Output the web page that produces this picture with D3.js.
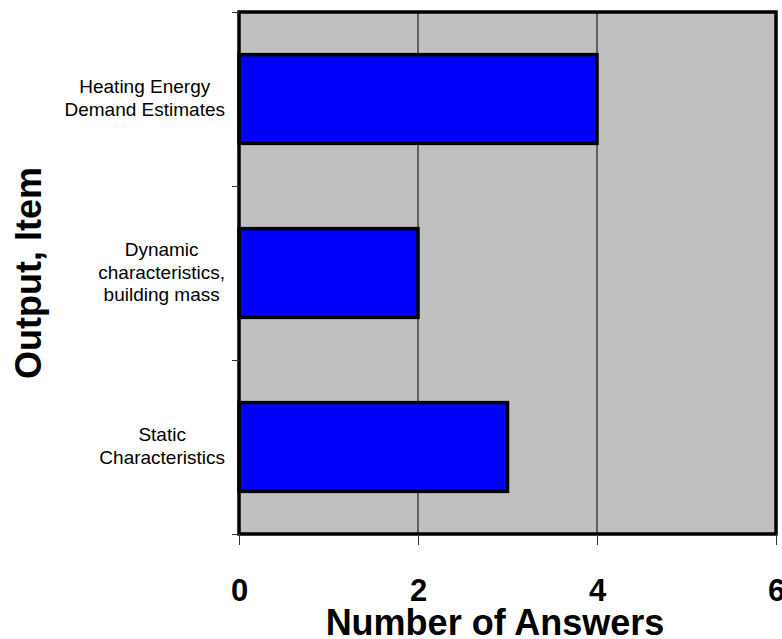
<!DOCTYPE html>
<html>
<head>
<meta charset="utf-8">
<script src="https://cdn.jsdelivr.net/npm/d3@7"></script>
<style>
  html, body { margin: 0; padding: 0; background: #ffffff; }
  svg { display: block; font-family: Arial, "Liberation Sans", sans-serif; }
</style>
</head>
<body>
<svg id="chart" width="782" height="639"></svg>
<script>
// Survey answers per output item (top to bottom)
const categories = [
  "Heating Energy\nDemand Estimates",
  "Dynamic\ncharacteristics,\nbuilding mass",
  "Static\nCharacteristics"
];
const answers = [4, 2, 3];
const xTicks = [0, 2, 4, 6];
const xTitle = "Number of Answers";
const yTitle = "Output, Item";

const svg = d3.select("#chart");
const plot = { left: 239, right: 776, top: 12, bottom: 534 };

const x = d3.scaleLinear().domain([0, 6]).range([plot.left, plot.right]);
const y = d3.scaleBand()
  .domain(categories)
  .range([plot.top, plot.bottom])
  .paddingInner(0.49)
  .paddingOuter(0.245);
// category boundaries for the axis tick marks
const yEdge = d3.scaleLinear().domain([0, categories.length]).range([plot.top, plot.bottom]);

// plot background
svg.append("rect")
  .attr("x", plot.left).attr("y", plot.top)
  .attr("width", plot.right - plot.left).attr("height", plot.bottom - plot.top)
  .attr("fill", "#c0c0c0");

// vertical gridlines
svg.append("g")
  .selectAll("line")
  .data(xTicks.filter(d => d > 0 && d < 6))
  .join("line")
  .attr("x1", d => x(d)).attr("x2", d => x(d))
  .attr("y1", plot.top).attr("y2", plot.bottom)
  .attr("stroke", "#000").attr("stroke-width", 1);

// bars
svg.append("g")
  .selectAll("rect")
  .data(categories.map((c, i) => ({ c, v: answers[i] })))
  .join("rect")
  .attr("x", x(0))
  .attr("y", d => y(d.c))
  .attr("width", d => x(d.v) - x(0))
  .attr("height", y.bandwidth())
  .attr("fill", "#0000ff")
  .attr("stroke", "#000")
  .attr("stroke-width", 3.5);

// plot frame
svg.append("rect")
  .attr("x", plot.left).attr("y", plot.top)
  .attr("width", plot.right - plot.left).attr("height", plot.bottom - plot.top)
  .attr("fill", "none")
  .attr("stroke", "#000").attr("stroke-width", 3.5);

// bottom value axis
const xAxis = svg.append("g")
  .attr("transform", `translate(0,${plot.bottom})`)
  .call(d3.axisBottom(x).tickValues(xTicks).tickFormat(d3.format("d")).tickSize(11).tickPadding(34));
xAxis.select(".domain").remove();
xAxis.selectAll(".tick line").attr("stroke", "#333").attr("stroke-width", 1);
xAxis.selectAll(".tick text")
  .attr("fill", "#000")
  .style("font-size", "31px")
  .style("font-weight", "bold")
  .style("font-family", "Arial, 'Liberation Sans', sans-serif");

// left category axis: tick marks at category boundaries
const yAxis = svg.append("g")
  .attr("transform", `translate(${plot.left},0)`)
  .call(d3.axisLeft(yEdge).tickValues(d3.range(categories.length + 1)).tickFormat("").tickSize(7));
yAxis.select(".domain").remove();
yAxis.selectAll(".tick line").attr("stroke", "#333").attr("stroke-width", 1);

// category labels: each wrapped block sits against the axis, its lines centred within the block
const lineH = 22.5;
const labelRight = 225;
svg.append("g")
  .selectAll("text")
  .data(categories)
  .join("text")
  .attr("text-anchor", "middle")
  .attr("font-size", "19px")
  .attr("fill", "#000")
  .each(function (c) {
    const lines = c.split("\n");
    const cy = y(c) + y.bandwidth() / 2 - 1;
    const t = d3.select(this);
    const spans = lines.map((ln, i) =>
      t.append("tspan")
        .attr("y", cy + (i - (lines.length - 1) / 2) * lineH)
        .attr("dy", "0.35em")
        .text(ln));
    const w = d3.max(spans, s => s.node().getComputedTextLength());
    spans.forEach(s => s.attr("x", labelRight - w / 2));
  });

// axis titles
svg.append("text")
  .attr("x", 495)
  .attr("y", 635)
  .attr("text-anchor", "middle")
  .attr("font-size", "36px")
  .attr("font-weight", "bold")
  .attr("fill", "#000")
  .text(xTitle);

svg.append("text")
  .attr("transform", `translate(41,${(plot.top + plot.bottom) / 2}) rotate(-90)`)
  .attr("text-anchor", "middle")
  .attr("font-size", "36px")
  .attr("font-weight", "bold")
  .attr("fill", "#000")
  .text(yTitle);
</script>
</body>
</html>
